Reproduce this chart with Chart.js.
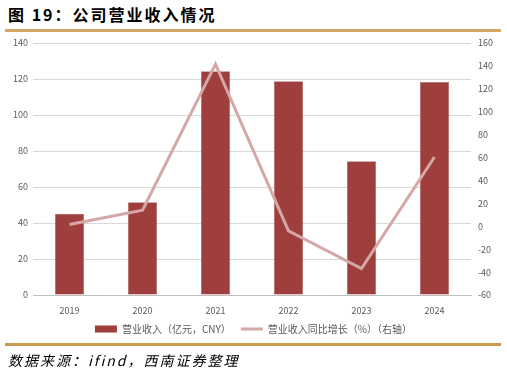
<!DOCTYPE html>
<html>
<head>
<meta charset="utf-8">
<script src="https://cdn.jsdelivr.net/npm/chart.js@4.4.1/dist/chart.umd.min.js"></script>
<style>
  html, body { margin: 0; padding: 0; background: #fff; }
  body { width: 507px; height: 376px; position: relative; overflow: hidden; font-family: "Noto Sans CJK SC", "Noto Sans", sans-serif; }
  #title { position: absolute; left: 8px; top: 2px; font-size: 16px; font-weight: bold; color: #000; white-space: nowrap; letter-spacing: 2px; }
  #topline { position: absolute; left: 5px; top: 29px; width: 496px; height: 3px; background: #D2A766; }
  #botline { position: absolute; left: 5px; top: 343px; width: 496px; height: 3px; background: #C99A4E; }
  #source { position: absolute; left: 8px; top: 350px; font-size: 14px; font-style: italic; color: #000; white-space: nowrap; letter-spacing: 2px; }
  #wrap { position: absolute; left: 0; top: 0; width: 507px; height: 346px; }
</style>
</head>
<body>
<div id="title">图 19：公司营业收入情况</div>
<div id="topline"></div>
<div id="wrap"><canvas id="c"></canvas></div>
<div id="botline"></div>
<div id="source">数据来源：ifind，西南证券整理</div>
<script>
const categories = ["2019", "2020", "2021", "2022", "2023", "2024"];
const revenue = [45.2, 51.5, 124.3, 118.8, 74.3, 118.3];
const growth = [1.5, 14.0, 141.5, -4.0, -37.0, 60.5];
const revenueLabel = "营业收入（亿元，CNY）";
const growthLabel = "营业收入同比增长（%）（右轴）";
const leftTicks = { min: 0, max: 140, step: 20 };
const rightTicks = { min: -60, max: 160, step: 20 };

const barColor = "#9E3F3D";
const lineColor = "#D6A7A7";
const tickColor = "#595959";
const fontFam = "'Noto Sans CJK SC', 'Noto Sans', sans-serif";

new Chart(document.getElementById("c"), {
  data: {
    labels: categories,
    datasets: [
      {
        type: "bar",
        label: revenueLabel,
        data: revenue,
        backgroundColor: barColor,
        borderColor: "#A8706E",
        borderWidth: 0.5,
        barPercentage: 0.4,
        categoryPercentage: 1.0,
        yAxisID: "y",
        order: 2
      },
      {
        type: "line",
        label: growthLabel,
        data: growth,
        borderColor: lineColor,
        backgroundColor: lineColor,
        borderWidth: 3,
        pointRadius: 0,
        tension: 0,
        yAxisID: "y1",
        order: 1
      }
    ]
  },
  options: {
    responsive: true,
    maintainAspectRatio: false,
    animation: false,
    layout: { padding: { top: 43, left: 0, right: 0, bottom: 2 } },
    plugins: {
      tooltip: { enabled: false },
      legend: {
        position: "bottom",
        labels: {
          usePointStyle: true,
          pointStyleWidth: 22,
          boxHeight: 7,
          padding: 10,
          color: tickColor,
          font: { family: fontFam, size: 10 },
          generateLabels: (chart) => [
            { text: revenueLabel, pointStyle: "rect", fillStyle: barColor, strokeStyle: barColor, lineWidth: 0, datasetIndex: 0, fontColor: tickColor },
            { text: growthLabel, pointStyle: "line", fillStyle: lineColor, strokeStyle: lineColor, lineWidth: 3, datasetIndex: 1, fontColor: tickColor }
          ]
        }
      }
    },
    scales: {
      x: {
        grid: { display: false },
        border: { display: true, color: "#BFBFBF", width: 1 },
        ticks: { color: tickColor, font: { family: fontFam, size: 9 }, padding: 2, maxRotation: 0 },
        afterFit: (s) => { s.height = 19; }
      },
      y: {
        position: "left",
        min: leftTicks.min, max: leftTicks.max,
        ticks: { stepSize: leftTicks.step, color: tickColor, font: { family: fontFam, size: 9 }, padding: 5 },
        grid: { color: "#D9D9D9", lineWidth: 1, drawTicks: false },
        border: { display: false },
        afterFit: (s) => { s.width = 33; }
      },
      y1: {
        position: "right",
        min: rightTicks.min, max: rightTicks.max,
        ticks: { stepSize: rightTicks.step, color: tickColor, font: { family: fontFam, size: 9 }, padding: 7 },
        grid: { display: false, drawTicks: false },
        border: { display: false },
        afterFit: (s) => { s.width = 36; }
      }
    }
  }
});
</script>
</body>
</html>
